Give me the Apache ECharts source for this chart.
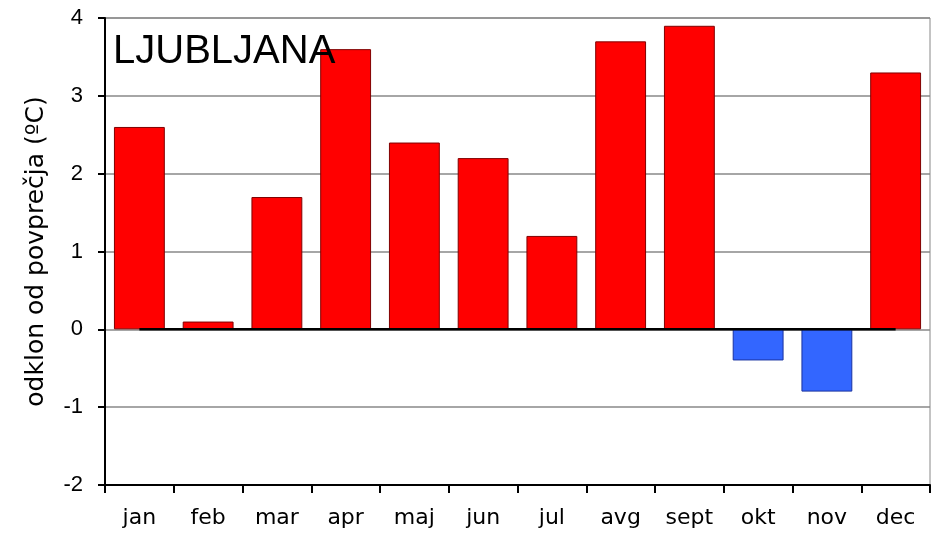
<!DOCTYPE html>
<html>
<head>
<meta charset="utf-8">
<script src="https://cdn.jsdelivr.net/npm/echarts@6/dist/echarts.min.js"></script>
<style>
  html, body { margin: 0; padding: 0; background: #fff; }
</style>
</head>
<body>
<div id="chart" style="width: 937px;height:534px"></div>
<script>
// months and deviation from average (°C)
const months = ['jan', 'feb', 'mar', 'apr', 'maj', 'jun', 'jul', 'avg', 'sept', 'okt', 'nov', 'dec']
const odklon = [2.6, 0.1, 1.7, 3.6, 2.4, 2.2, 1.2, 3.7, 3.9, -0.4, -0.8, 3.3]
const zeroLine = [0, 0, 0, 0, 0, 0, 0, 0, 0, 0, 0, 0]
const yTicks = [-2, -1, 0, 1, 2, 3, 4]

let myChart = echarts.init(document.getElementById('chart'))
let font = 'Liberation Sans, Arial, sans-serif'
let wide = 'DejaVu Sans, sans-serif'
let option = {
  animation: false,
  title: {
    text: 'LJUBLJANA',
    left: 108,
    top: 27,
    textStyle: { fontFamily: font, fontSize: 40, fontWeight: 'normal', color: '#000' }
  },
  grid: {
    left: 105,
    right: 7,
    top: 18,
    bottom: 49,
    show: true,
    borderColor: '#888',
    borderWidth: 1
  },
  xAxis: {
    type: 'category',
    data: months,
    axisLine: { onZero: false, lineStyle: { color: '#000', width: 2 } },
    axisTick: { show: true, length: 8, lineStyle: { color: '#000', width: 2 } },
    axisLabel: { color: '#000', fontFamily: wide, fontSize: 22, margin: 22 }
  },
  yAxis: {
    type: 'value',
    min: yTicks[0],
    max: yTicks[yTicks.length - 1],
    interval: 1,
    name: 'odklon od povprečja (ºC)',
    nameLocation: 'middle',
    nameGap: 56,
    nameTextStyle: { fontFamily: wide, fontSize: 25, color: '#000' },
    axisLine: { show: true, lineStyle: { color: '#000', width: 2 } },
    axisTick: { show: true, length: 7, lineStyle: { color: '#000', width: 2 } },
    axisLabel: { color: '#000', fontFamily: font, fontSize: 22, margin: 22 },
    splitLine: { lineStyle: { color: '#888', width: 1.5 } }
  },
  series: [
    {
      type: 'bar',
      data: odklon.map(v => ({
        value: v,
        itemStyle: v < 0
          ? { color: '#3366ff', borderColor: '#1a33a0', borderWidth: 1 }
          : { color: '#ff0000', borderColor: '#800000', borderWidth: 1 }
      })),
      barWidth: '74%'
    },
    {
      type: 'line',
      data: zeroLine,
      symbol: 'none',
      lineStyle: { color: '#000', width: 2.5 },
      z: 3
    }
  ]
}
myChart.setOption(option)
</script>
</body>
</html>
